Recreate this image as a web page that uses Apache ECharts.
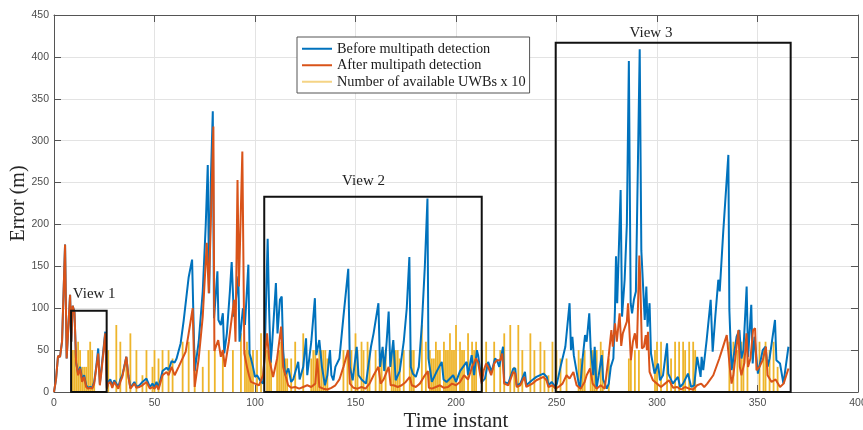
<!DOCTYPE html>
<html><head><meta charset="utf-8">
<script src="https://cdn.jsdelivr.net/npm/echarts@6/dist/echarts.min.js"></script>
<style>html,body{margin:0;padding:0;background:#fff}#c{width:863px;height:430px}</style>
</head><body><div id="c"></div>
<script>
// ---- data ----
const seriesNames = ['Before multipath detection', 'After multipath detection', 'Number of available UWBs x 10'];

// [time instant, error (m)]
const before = [[0,0],[1,15],[2,43],[3,42],[4,60],[5.5,176],[6.3,40],[8,116],[8.6,60],[9.3,103],[10.2,95],[11,35],[12,22],[13,30],[14,15],[15,20],[16,8],[17,5],[18,6],[19,5],[20,12],[21,30],[22,52],[22.8,10],[23.5,25],[25.5,72],[26.3,5],
[27,12],[28,15],[29,8],[30,14],[31,10],[32,6],[33,15],[34,20],[36,42],[37,20],[38,5],[40,12],[41,6],[42.5,8],[44,12],[46,16],[47.7,6],[49,10],[50,6],[51,12],[52,5],[54,25],[56,29],[57,26],[58.5,37],[60,35],[61,40],[63,58],[64.5,85],[67,137],[68.7,158],[70,25],[72,60],[74,120],[75.5,200],[76.5,271],[77.2,118],[78,250],[79,335],[79.6,88],[80.3,110],[81.3,144],[81.8,86],[83,80],[84,94],[84.7,46],[86,70],[87.5,120],[88.4,155],[89.5,90],[90.5,110],[91.7,138],[92.3,60],[93,75],[94,100],[95,80],[96.7,152],[97.3,46],[98,40],[99,30],[100,18],[101,20],[102.5,14],[104,10],[105,60],[106.3,183],[107,100],[107.8,35],[108.6,60],[110.4,130],[111.2,70],[112.4,110],[113.3,114],[114,50],[115,20],[116.6,28],[118,12],[119,15],[121.5,36],[122.2,15],[124,30],[125.4,64],[126,20],[128,60],[129.8,112],[130.5,44],[132,62],[133.3,30],[134.8,8],[136,20],[137.3,50],[138,20],[139,14],[140,30],[142,40],[144,90],[146.4,147],[147.2,30],[148.6,14],[150.6,54],[151.5,20],[153,15],[155.2,10],[157.7,54],[159,70],[161.4,106],[162.2,30],[163.5,54],[164.3,25],[165.5,60],[166.5,96],[167.3,30],[168.8,62],[170,14],[172,25],[174,60],[175.5,100],[176.8,161],[177.5,30],[178.5,22],[180,18],[181.5,30],[183,80],[184.5,150],[185.8,231],[186.3,40],[188,12],[190.3,24],[192.9,36],[193.8,15],[195.3,12],[198.6,20],[200,12],[202,25],[205.3,36],[206,20],[207.8,44],[209,20],[210.4,50],[211,44],[212.8,12],[214.4,16],[216,36],[217.7,24],[219.4,40],[220.4,38],[221.5,30],[223.4,54],[224,12],[226,10],[228.5,28],[229.5,28],[230.2,8],[232,10],[234.3,24],[235,8],[237.8,14],[238.4,12],[240,18],[243.5,22],[245.2,18],[246,8],[247.6,12],[249.4,6],[250.2,10],[252,30],[254.4,54],[256.5,106],[257.2,50],[257.9,66],[258.6,44],[260.9,12],[261.7,4],[263,40],[264.2,68],[265,60],[266.3,94],[267,52],[268.3,20],[269,54],[269.9,4],[271,20],[272.5,44],[273.2,15],[275,4],[276,10],[277,30],[278.3,40],[279.1,100],[279.6,162],[280.2,106],[281.9,241],[282.6,90],[283.9,134],[285,200],[286,395],[286.9,106],[287.6,94],[288.5,110],[289.5,120],[291.4,409],[292.2,169],[293.9,86],[294.7,126],[295.3,78],[296.3,106],[297,46],[298.8,22],[300.5,34],[301.5,14],[303,20],[305,58],[305.6,22],[307.9,10],[310.4,18],[311.5,6],[313,10],[315.4,22],[317,6],[318.5,8],[320,42],[321.7,18],[322.2,42],[323,26],[324.7,62],[326.7,110],[327.7,48],[329,90],[330.5,134],[331.2,120],[333,193],[335.5,283],[336,98],[337.1,26],[338,40],[339.6,66],[341,74],[342,40],[343,50],[344.6,126],[345.3,42],[346.9,104],[347.6,34],[348.5,66],[350.2,22],[352.6,50],[354,54],[355,30],[356,40],[358.7,86],[359.4,38],[361.2,34],[362.9,10],[365.4,54]];

const after = [[0,0],[1,15],[2,43],[3,42],[4,60],[5.5,176],[6.3,40],[8,116],[8.6,60],[9.3,103],[10.2,95],[11,35],[12,20],[13,28],[14,12],[15,18],[16,6],[17,4],[18,5],[19,4],[20,10],[21,28],[22,46],[22.8,8],[23.5,22],[25.5,70],[26.3,4],
[27,10],[28,12],[29,5],[30,12],[31,8],[32,4],[33,12],[34,18],[36,42],[37,18],[38,4],[40,10],[41,5],[42.5,6],[44,8],[46,12],[47.7,4],[49,6],[50,4],[51,8],[52,3],[54,20],[56,24],[57,20],[58.5,30],[60,20],[62,30],[65.5,48],[67,70],[69,100],[70,6],[72,40],[74,90],[76,178],[77,118],[78,200],[79.3,317],[79.8,49],[81.7,62],[83,42],[84,50],[85,30],[87,60],[88,80],[89.6,110],[90.3,60],[91.3,253],[92,126],[93.7,287],[94.7,46],[96,30],[97,20],[98,12],[100,10],[102,8],[104,20],[106,70],[107,40],[109,18],[111,40],[113,78],[114,30],[116.5,8],[118,5],[120,6],[122,4],[124,6],[126,8],[128,6],[130,10],[131,40],[132,6],[134,4],[136,3],[138,5],[140,8],[142,15],[144,30],[146.4,50],[147.2,10],[149,5],[151,4],[153,6],[155,4],[157,10],[159,20],[161.4,30],[162.5,10],[164,15],[166.5,30],[167.5,8],[169,8],[171,6],[173,8],[175,12],[177,18],[178,8],[180,6],[182,10],[184,18],[186,25],[186.5,5],[188,4],[190,6],[192,8],[194,5],[196,6],[198,10],[200,8],[202,12],[204,20],[206,15],[208,30],[210,40],[211,35],[212.8,10],[213.8,26],[215,34],[216,30],[217.5,20],[219,34],[220.4,38],[222,38],[223,46],[224,10],[226,8],[228.5,24],[229.5,22],[230.2,6],[232,8],[234,18],[235,6],[238,10],[240,14],[243.5,18],[245,14],[246,6],[248,8],[249.5,4],[251,6],[253,10],[255,20],[256.5,16],[258.4,24],[260,8],[262,4],[264,12],[265,20],[266.7,28],[268,10],[270,4],[272,8],[274,4],[276,44],[277.3,74],[278,54],[279.1,82],[280,60],[281.4,94],[282.2,55],[283,70],[285,84],[285.6,106],[286.4,104],[287,38],[288,60],[289,70],[290,52],[291.2,163],[291.6,139],[292.5,52],[293.5,54],[294.4,68],[295,50],[295.5,72],[296.3,24],[298,14],[300,10],[302,6],[304,10],[306,14],[308,5],[310,6],[312,3],[314,6],[316,4],[318,3],[320,8],[322,10],[323.5,6],[325,10],[328,20],[331,40],[333,55],[334.7,68],[335.5,70],[336.2,30],[337.1,10],[338,20],[340.5,74],[341.2,30],[342,20],[343.5,35],[344.5,70],[345.3,30],[346.5,40],[347.8,74],[348.8,76],[349.5,26],[351,30],[352.6,38],[354.2,54],[355,20],[357,12],[359,15],[361.2,6],[363,10],[365.4,28]];

// number of available UWBs, one value per time instant 0..365
const uwbCount = [
0,0,0,0,0,0,0,0,0,5, 5,5,6,5,3,3,3,5,6,5, 1,0,0,0,0,0,0,5,0,0, 0,8,0,6,0,0,4,0,7,0,
0,5,0,0,2,0,5,0,0,3, 5,0,4,0,5,0,0,5,0,4, 0,0,0,0,6,0,0,6,0,0, 5,0,0,0,3,0,0,5,0,0,
5,0,0,0,5,0,0,0,0,5, 0,0,0,7,0,5,6,5,4,5, 0,5,0,7,0,0,5,5,5,0, 0,4,5,6,5,4,4,0,4,0,
6,0,0,0,7,0,0,0,4,5, 5,4,5,5,5,5,4,0,0,0, 0,0,0,0,5,0,5,0,5,0, 7,5,0,6,5,0,6,5,0,0,
5,0,4,5,0,5,0,0,5,5, 5,5,4,0,5,0,0,5,5,5, 0,0,0,8,0,6,0,5,4,4, 6,5,5,0,6,5,5,7,5,5,
8,0,6,5,5,0,7,0,6,5, 6,0,0,5,0,6,0,0,0,6, 0,0,5,0,7,0,0,8,0,3, 0,8,0,5,0,0,0,7,0,5,
0,0,6,0,5,0,2,0,6,0, 5,0,4,0,0,4,0,0,0,0, 0,5,4,4,5,0,0,5,5,5, 5,0,6,5,0,0,4,0,0,0,
0,0,0,0,0,0,4,5,0,5, 0,5,0,0,0,0,0,0,0,5, 6,0,6,0,0,5,0,4,0,6, 0,6,0,6,5,0,6,0,6,5,
0,0,0,0,0,0,0,0,0,0, 0,0,0,0,0,0,6,0,6,0, 5,0,6,5,0,5,0,0,0,0, 0,6,0,5,6,0,5,0,6,0,
3,0,0,0,0,0];

// zoom-view boxes (data units)
const viewNames = ['View 1', 'View 2', 'View 3'];
const viewStart = [8.5, 104.6, 249.6];
const viewEnd = [26.2, 212.8, 366.5];
const viewTop = [97, 233, 417];
const viewLabelX = [20, 154, 297];
const viewLabelY = [117, 252, 429];

// ---- chart ----
const chart = echarts.init(document.getElementById('c'), null, {renderer: 'canvas'});
const axisColor = '#555';
const labelStyle = {color: '#4d4d4d', fontFamily: 'Liberation Sans', fontSize: 10.5};
function tick() { return {show: true, inside: true, length: 7, lineStyle: {color: axisColor}}; }

chart.setOption({
  animation: false,
  backgroundColor: '#fff',
  grid: {left: 54, right: 5, top: 15, bottom: 38, containLabel: false, outerBoundsMode: 'none'},
  legend: {
    orient: 'vertical', left: 297, top: 37,
    data: [
      {name: seriesNames[0], icon: 'rect'},
      {name: seriesNames[1], icon: 'rect'},
      {name: seriesNames[2], icon: 'rect', itemStyle: {opacity: 0.55}}
    ],
    itemWidth: 30, itemHeight: 2, itemGap: 0,
    padding: [3.5, 4, 3, 5],
    borderColor: '#555', borderWidth: 1, backgroundColor: '#fff',
    textStyle: {fontFamily: 'Liberation Serif', fontSize: 14.3, lineHeight: 16.5, color: '#1a1a1a'}
  },
  xAxis: [
    {type: 'value', min: 0, max: 400, interval: 50,
     axisLine: {onZero: false, lineStyle: {color: axisColor}}, axisTick: tick(),
     axisLabel: Object.assign({margin: 6}, labelStyle),
     splitLine: {show: true, lineStyle: {color: '#e3e3e3'}},
     name: 'Time instant', nameLocation: 'middle', nameGap: 19, nameMoveOverlap: false,
     nameTextStyle: {fontFamily: 'Liberation Serif', fontSize: 21, color: '#262626'}},
    {type: 'value', position: 'top', min: 0, max: 400, interval: 50,
     axisLine: {show: true, onZero: false, lineStyle: {color: axisColor}}, axisTick: tick(),
     axisLabel: {show: false}, splitLine: {show: false}}
  ],
  yAxis: [
    {type: 'value', min: 0, max: 450, interval: 50,
     axisLine: {show: true, onZero: false, lineStyle: {color: axisColor}}, axisTick: tick(),
     axisLabel: Object.assign({margin: 5}, labelStyle),
     splitLine: {show: true, lineStyle: {color: '#e3e3e3'}},
     name: 'Error (m)', nameLocation: 'middle', nameGap: 25, nameMoveOverlap: false,
     nameTextStyle: {fontFamily: 'Liberation Serif', fontSize: 20, color: '#262626'}},
    {type: 'value', position: 'right', min: 0, max: 450, interval: 50,
     axisLine: {show: true, onZero: false, lineStyle: {color: axisColor}}, axisTick: tick(),
     axisLabel: {show: false}, splitLine: {show: false}}
  ],
  series: [
    {name: seriesNames[0], type: 'line', data: before, symbol: 'none',
     lineStyle: {width: 2, color: '#0072BD'}, itemStyle: {color: '#0072BD'}, emphasis: {disabled: true}},
    {name: seriesNames[1], type: 'line', data: after, symbol: 'none',
     lineStyle: {width: 2, color: '#D95319'}, itemStyle: {color: '#D95319'}, emphasis: {disabled: true}},
    {name: seriesNames[2], type: 'bar', z: 3, data: uwbCount.map((c, i) => [i, c * 10]),
     barWidth: 1.8, itemStyle: {color: '#EDB120', opacity: 0.95}, emphasis: {disabled: true}},
    {name: 'views', type: 'custom', silent: true, clip: false, z: 5,
     data: viewNames.map((n, i) => [viewStart[i], viewEnd[i], viewTop[i], viewLabelX[i], viewLabelY[i]]),
     renderItem: function (params, api) {
       const p0 = api.coord([api.value(0), 0]);
       const p1 = api.coord([api.value(1), api.value(2)]);
       const pl = api.coord([api.value(3), api.value(4)]);
       return {type: 'group', children: [
         {type: 'rect', shape: {x: p0[0], y: p1[1], width: p1[0] - p0[0], height: p0[1] - p1[1]},
          style: {fill: 'none', stroke: '#111', lineWidth: 2}},
         {type: 'text', x: pl[0], y: pl[1],
          style: {text: viewNames[params.dataIndex], fill: '#222', font: '15px "Liberation Serif"',
                  align: 'center', verticalAlign: 'middle'}}
       ]};
     }}
  ]
});
</script>
</body></html>
